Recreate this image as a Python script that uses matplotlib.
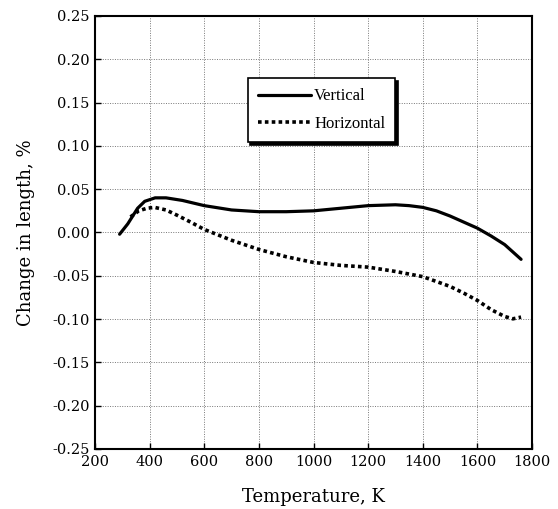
import numpy as np
import matplotlib.pyplot as plt

plt.rcParams['axes.unicode_minus'] = False

t_vert = [290, 320, 356, 382, 420, 460, 520, 600, 700, 800, 900, 1000, 1100,
          1200, 1300, 1350, 1400, 1450, 1500, 1550, 1600, 1650, 1700, 1760]
d_vert = [-0.002, 0.010, 0.028, 0.036, 0.040, 0.040, 0.037, 0.031, 0.026, 0.024,
          0.024, 0.025, 0.028, 0.031, 0.032, 0.031, 0.029, 0.025, 0.019, 0.012,
          0.005, -0.004, -0.014, -0.031]

t_horz = [330, 360, 390, 418, 460, 500, 550, 600, 700, 800, 900, 1000, 1100,
          1200, 1300, 1400, 1450, 1500, 1550, 1600, 1650, 1700, 1730, 1760]
d_horz = [0.018, 0.025, 0.028, 0.029, 0.026, 0.020, 0.012, 0.0035, -0.009,
          -0.0196, -0.028, -0.0346, -0.038, -0.040, -0.045, -0.051, -0.0566,
          -0.0623, -0.070, -0.0785, -0.089, -0.097, -0.0997, -0.0977]

xticks = np.arange(200, 1801, 200)
yticks = np.round(np.arange(-0.25, 0.2501, 0.05), 2)

fig = plt.figure(figsize=(5.58, 5.09), dpi=100)
ax = fig.add_axes([0.1703, 0.1179, 0.7831, 0.8507])

ax.plot(t_vert, d_vert, color='black', lw=2.3, solid_capstyle='round', label='Vertical')
ax.plot(t_horz, d_horz, color='black', lw=2.6, linestyle=(0, (1, 0.9)), label='Horizontal')

ax.set_xlim(200, 1800)
ax.set_ylim(-0.25, 0.25)
ax.set_xticks(xticks)
ax.set_yticks(yticks)
ax.set_yticklabels(['%.2f' % (v + 0.0) for v in yticks])
ax.tick_params(direction='in', length=4, width=1, labelsize=10.5, pad=4)
for lab in ax.get_xticklabels() + ax.get_yticklabels():
    lab.set_family('DejaVu Serif')
ax.grid(True, color='#777777', linestyle=(0, (1, 1.5)), linewidth=0.7)
for s in ax.spines.values():
    s.set_linewidth(1.5)

ax.set_xlabel('Temperature, K', family='DejaVu Serif', fontsize=13, labelpad=14)
ax.set_ylabel('Change in length, %', family='DejaVu Serif', fontsize=13, labelpad=12)

leg = ax.legend(loc='upper left', bbox_to_anchor=(0.330, 0.875), frameon=True,
                fancybox=False, shadow={'color': 'black', 'alpha': 1, 'ox': 2, 'oy': -2},
                edgecolor='black', framealpha=1, handlelength=3.2,
                handletextpad=0.2, borderpad=0.6, labelspacing=0.7,
                prop={'family': 'Liberation Serif', 'size': 12})
leg.get_frame().set_linewidth(1.2)

fig.savefig('out.png', dpi=100)
